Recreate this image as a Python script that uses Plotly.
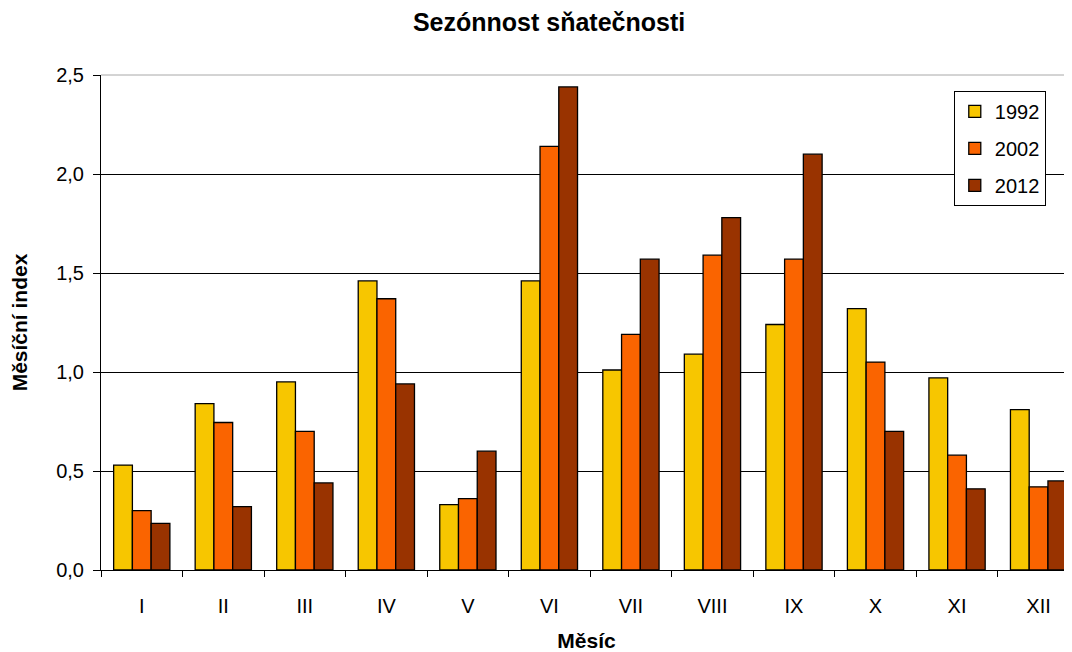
import plotly.graph_objects as go

months = ["I", "II", "III", "IV", "V", "VI", "VII", "VIII", "IX", "X", "XI", "XII"]
v1992 = [0.53, 0.84, 0.95, 1.46, 0.33, 1.46, 1.01, 1.09, 1.24, 1.32, 0.97, 0.81]
v2002 = [0.30, 0.745, 0.70, 1.37, 0.36, 2.14, 1.19, 1.59, 1.57, 1.05, 0.58, 0.42]
v2012 = [0.235, 0.32, 0.44, 0.94, 0.60, 2.44, 1.57, 1.78, 2.10, 0.70, 0.41, 0.45]
years = ["1992", "2002", "2012"]
colors = ["#F7C600", "#FA6400", "#993300"]

fig = go.Figure()
for name, vals, col in zip(years, [v1992, v2002, v2012], colors):
    fig.add_trace(go.Bar(
        x=months, y=vals, name=name, legendgroup=name,
        marker=dict(color=col, line=dict(color="black", width=1.3)),
    ))

font = "Liberation Sans, Arial, sans-serif"
fig.update_layout(
    width=1064, height=644,
    margin=dict(l=93, r=0, t=67, b=82),
    paper_bgcolor="white", plot_bgcolor="white",
    separators=", ",
    barmode="group", bargap=0.31, bargroupgap=0,
    font=dict(family=font, size=20, color="black"),
    title=dict(text="<b>Sezónnost sňatečnosti</b>", x=0.5085, xref="container", xanchor="center",
               y=0.978, yref="container", yanchor="middle",
               font=dict(size=25, family=font)),
    showlegend=True,
    legend=dict(x=0.973, y=0.968, xanchor="right", yanchor="top",
                bgcolor="white", bordercolor="black", borderwidth=1,
                traceorder="grouped", tracegroupgap=8, itemwidth=30,
                font=dict(size=20, family=font)),
    xaxis=dict(
        range=[-0.5, 11.41], automargin=False,
        showline=True, linecolor="black", linewidth=1,
        ticks="outside", tickson="boundaries", ticklen=6, tickcolor="black",
        ticklabelstandoff=18,
        title=dict(text="<b>Měsíc</b>", font=dict(size=21), standoff=22),
        tickfont=dict(size=20),
    ),
    yaxis=dict(
        range=[0, 2.5], tickvals=[0, 0.5, 1.0, 1.5, 2.0, 2.5], tickformat=".1f",
        automargin=False,
        showline=True, linecolor="black", linewidth=1,
        showgrid=True, gridcolor="black", gridwidth=1,
        ticks="outside", ticklen=7, tickcolor="black",
        ticklabelstandoff=5,
        title=dict(text="<b>Měsíční index</b>", font=dict(size=21), standoff=22),
        tickfont=dict(size=20),
        zeroline=False,
    ),
    shapes=[dict(type="line", xref="paper", yref="paper", x0=0, x1=1, y0=1, y1=1,
                 line=dict(color="#A8A8A8", width=1))],
)

fig.write_html("out.html")
